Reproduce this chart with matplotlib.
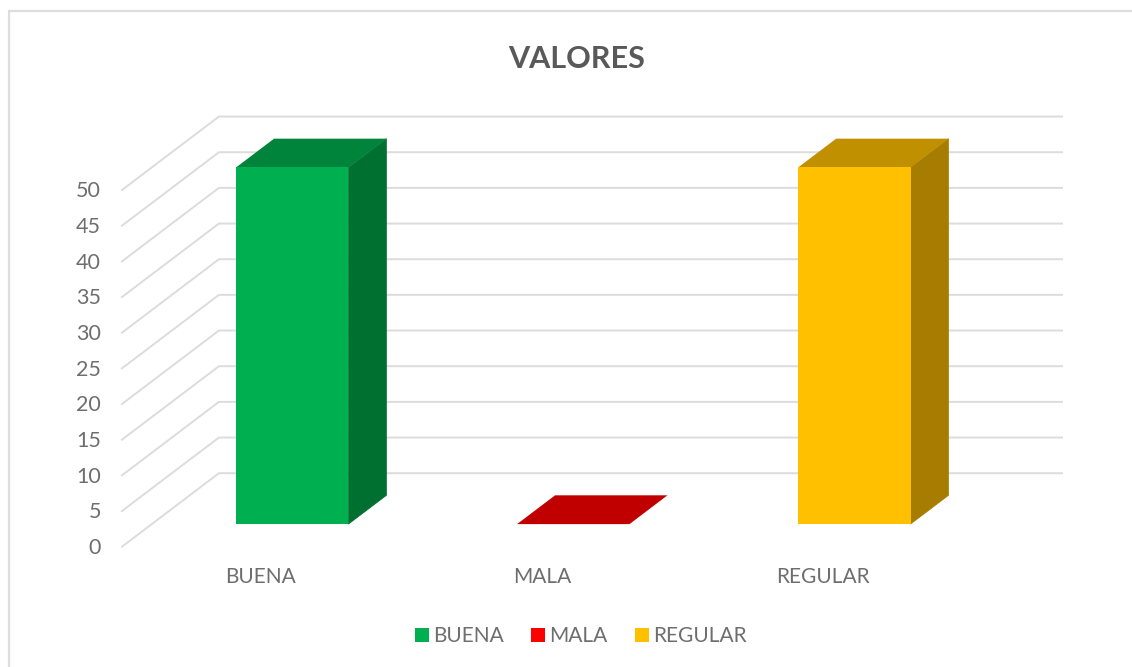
import matplotlib
matplotlib.use("Agg")
import matplotlib.pyplot as plt
from matplotlib.patches import Patch, Polygon

plt.rcParams['font.family'] = ['Lato', 'DejaVu Sans']

categories = ["BUENA", "MALA", "REGULAR"]
values = [50, 0, 50]
ticks = [0, 5, 10, 15, 20, 25, 30, 35, 40, 45, 50]
front_colors = ["#00B050", "#FF0000", "#FFC000"]
top_colors = ["#00843C", "#C00000", "#C09000"]
side_colors = ["#007030", "#A00000", "#A67D00"]

text_color = "#6E6E6E"
grid_color = "#DCDCDC"

# depth of the fake 3d box, in data units
depth_x = 0.345
depth_y = 10.3
bar_width = 0.4
bar_d0 = 0.307
bar_d1 = 0.699


def proj(x, y, d):
    return (x + d * depth_x, y + d * depth_y)


fig = plt.figure(figsize=(11.32, 6.67), dpi=100)
ax = fig.add_axes([0, 0, 1, 1])
ax.set_xlim(-0.934, 3.094)
ax.set_ylim(-16.87, 76.64)
ax.axis("off")

# frame, only left and top show in the picture
ax.plot([9 / 1132, 9 / 1132, 1], [0, 1 - 11 / 667, 1 - 11 / 667], transform=ax.transAxes,
        color="#DDDDDD", lw=1.6, zorder=1, solid_joinstyle="miter")

for t in ticks:
    p0 = proj(-0.5, t, 0)
    p1 = proj(-0.5, t, 1)
    p2 = proj(2.5, t, 1)
    ax.plot([p0[0], p1[0], p2[0]], [p0[1], p1[1], p2[1]], color=grid_color, lw=1.4, zorder=2)
    ax.text(-0.575, t - 0.2, str(t), ha="right", va="center", color=text_color, fontsize=15.5)

for i, v in enumerate(values):
    x0 = i - bar_width / 2
    x1 = i + bar_width / 2
    front = [proj(x0, 0, bar_d0), proj(x1, 0, bar_d0), proj(x1, v, bar_d0), proj(x0, v, bar_d0)]
    side = [proj(x1, 0, bar_d0), proj(x1, 0, bar_d1), proj(x1, v, bar_d1), proj(x1, v, bar_d0)]
    top = [proj(x0, v, bar_d0), proj(x1, v, bar_d0), proj(x1, v, bar_d1), proj(x0, v, bar_d1)]
    if v > 0:
        ax.add_patch(Polygon(side, closed=True, fc=side_colors[i], ec=side_colors[i], lw=0.5, zorder=3))
        ax.add_patch(Polygon(front, closed=True, fc=front_colors[i], ec="none", zorder=4))
    ax.add_patch(Polygon(top, closed=True, fc=top_colors[i], ec="none", zorder=3))
    ax.text(i - 0.006, -4.3, categories[i], ha="center", va="center", color=text_color, fontsize=15)

ax.text(0.5095, 0.912, "VALORES", transform=ax.transAxes, ha="center", va="center",
        color="#595959", fontsize=22, fontweight="bold")

handles = [Patch(fc=c, ec="none", label=n) for c, n in zip(front_colors, categories)]
ax.legend(handles=handles, ncol=3, loc="center", bbox_to_anchor=(581 / 1132, 1 - 636 / 667),
          bbox_transform=ax.transAxes, frameon=False, fontsize=15, labelcolor=text_color,
          handlelength=0.68, handleheight=0.68, handletextpad=0.2, columnspacing=1.3,
          borderpad=0, borderaxespad=0)

fig.savefig("out.png", dpi=100)
